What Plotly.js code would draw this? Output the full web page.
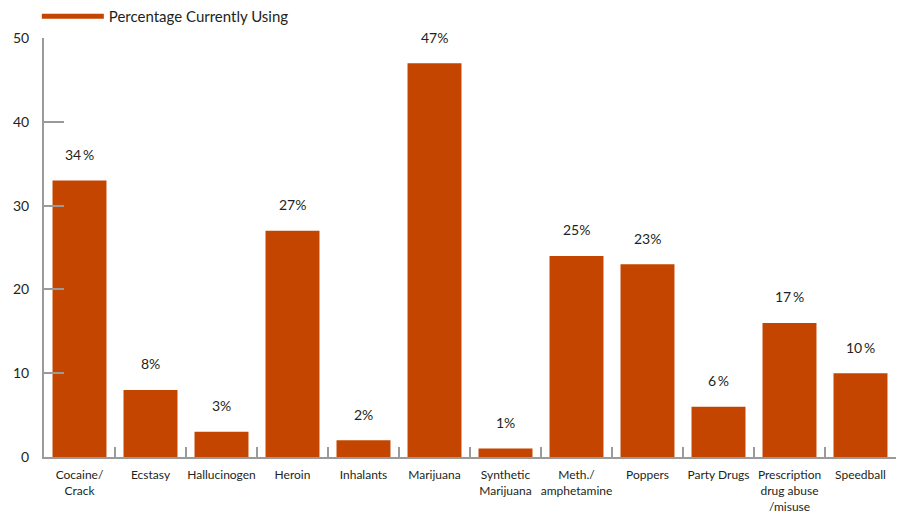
<!DOCTYPE html>
<html>
<head>
<meta charset="utf-8">
<script src="https://cdn.plot.ly/plotly-3.0.1.min.js"></script>
<style>html,body{margin:0;padding:0;background:#fff;}#chart{width:898px;height:514px;}</style>
</head>
<body>
<div id="chart"></div>
<script>
const categories = ["Cocaine/<br>Crack", "Ecstasy", "Hallucinogen", "Heroin", "Inhalants", "Marijuana",
  "Synthetic<br>Marijuana", "Meth./<br>amphetamine", "Poppers", "Party Drugs",
  "Prescription<br>drug abuse<br>/misuse", "Speedball"];
const barValues = [33, 8, 3, 27, 2, 47, 1, 24, 23, 6, 16, 10];
const valueLabels = ["34\u2009%", "8%", "3%", "27%", "2%", "47%", "1%", "25%", "23%", "6\u2009%", "17\u2009%", "10\u2009%"];
const seriesName = "Percentage Currently Using";
const yTicks = [0, 10, 20, 30, 40, 50];

const barColor = "#c44500";
const textColor = "#231f20";
const axisColor = "#9a9a9a";
const fontFamily = "Lato, 'Noto Sans', sans-serif";

const traces = [
  {
    type: "bar",
    x: categories,
    y: barValues,
    marker: {color: barColor},
    showlegend: false,
    hoverinfo: "skip"
  },
  {
    type: "scatter",
    mode: "lines",
    x: [null],
    y: [null],
    name: seriesName,
    line: {color: barColor, width: 5},
    showlegend: true
  }
];

const annotations = categories.map((c, i) => ({
  x: c, y: barValues[i], xref: "x", yref: "y",
  text: valueLabels[i], showarrow: false, yshift: 26,
  font: {family: fontFamily, size: 14, color: textColor}
}));

const layout = {
  width: 898, height: 514,
  margin: {l: 44, r: 2, t: 38, b: 57},
  paper_bgcolor: "#fff", plot_bgcolor: "#fff",
  font: {family: fontFamily, color: textColor},
  bargap: 0.24,
  showlegend: true,
  legend: {
    xref: "container", yref: "container",
    x: 0.041, xanchor: "left", y: 1.0, yanchor: "top",
    orientation: "h",
    itemwidth: 62,
    font: {family: fontFamily, size: 15, color: textColor},
    bgcolor: "rgba(0,0,0,0)"
  },
  xaxis: {
    type: "category",
    showgrid: false, zeroline: false,
    showline: true, linecolor: axisColor, linewidth: 2,
    ticks: "inside", tickson: "boundaries", ticklen: 10, tickcolor: axisColor, tickwidth: 2,
    tickangle: 0,
    tickfont: {family: fontFamily, size: 12, color: textColor},
    ticklabelstandoff: 6
  },
  yaxis: {
    range: [0, 50],
    tickvals: yTicks,
    showgrid: false, zeroline: false,
    showline: true, linecolor: axisColor, linewidth: 2,
    ticks: "inside", ticklen: 20, tickcolor: axisColor, tickwidth: 2,
    tickfont: {family: fontFamily, size: 14, color: textColor},
    ticklabelstandoff: 10
  },
  annotations: annotations
};

Plotly.newPlot("chart", traces, layout, {displayModeBar: false, staticPlot: true});
</script>
</body>
</html>
